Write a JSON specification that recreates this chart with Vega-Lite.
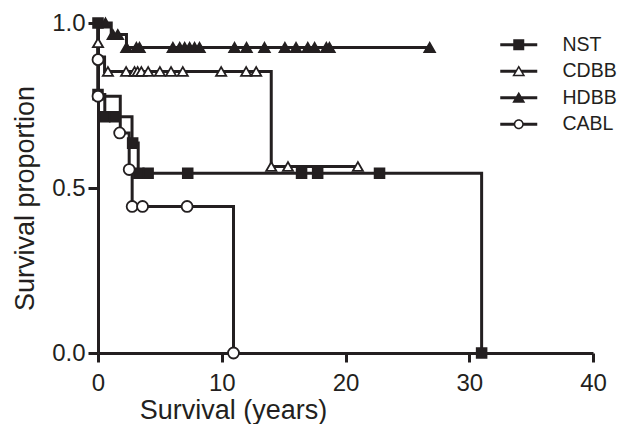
{
  "$schema": "https://vega.github.io/schema/vega-lite/v6.json",
  "autosize": {"type": "none"},
  "padding": {"left": 98, "top": 23, "right": 0, "bottom": 71},
  "width": 519,
  "height": 330,
  "background": "white",
  "config": {"view": {"stroke": null}, "legend": {"labelLimit": 0}},
  "datasets": {
    "steps": [
      {"group": "NST", "years": 0, "survival": 1},
      {"group": "NST", "years": 0, "survival": 0.783},
      {"group": "NST", "years": 0.55, "survival": 0.716},
      {"group": "NST", "years": 2.75, "survival": 0.636},
      {"group": "NST", "years": 3.25, "survival": 0.545},
      {"group": "NST", "years": 31.0, "survival": 0},
      {"group": "CDBB", "years": 0, "survival": 1},
      {"group": "CDBB", "years": 0, "survival": 0.94},
      {"group": "CDBB", "years": 0, "survival": 0.897},
      {"group": "CDBB", "years": 0.53, "survival": 0.853},
      {"group": "CDBB", "years": 14.0, "survival": 0.565},
      {"group": "CDBB", "years": 21.0, "survival": 0.565},
      {"group": "HDBB", "years": 0, "survival": 1},
      {"group": "HDBB", "years": 1.07, "survival": 0.965},
      {"group": "HDBB", "years": 2.3, "survival": 0.926},
      {"group": "HDBB", "years": 26.8, "survival": 0.926},
      {"group": "CABL", "years": 0, "survival": 1},
      {"group": "CABL", "years": 0, "survival": 0.889},
      {"group": "CABL", "years": 0, "survival": 0.778},
      {"group": "CABL", "years": 1.8, "survival": 0.667},
      {"group": "CABL", "years": 2.52, "survival": 0.556},
      {"group": "CABL", "years": 2.76, "survival": 0.444},
      {"group": "CABL", "years": 10.95, "survival": 0}
    ],
    "symbols": [
      {"group": "NST", "years": 0, "survival": 1},
      {"group": "NST", "years": 0, "survival": 0.783},
      {"group": "NST", "years": 0.55, "survival": 0.716},
      {"group": "NST", "years": 1.35, "survival": 0.716},
      {"group": "NST", "years": 2.8, "survival": 0.636},
      {"group": "NST", "years": 3.3, "survival": 0.545},
      {"group": "NST", "years": 4.05, "survival": 0.545},
      {"group": "NST", "years": 7.25, "survival": 0.545},
      {"group": "NST", "years": 16.45, "survival": 0.545},
      {"group": "NST", "years": 17.75, "survival": 0.545},
      {"group": "NST", "years": 22.75, "survival": 0.545},
      {"group": "NST", "years": 31.0, "survival": 0},
      {"group": "CDBB", "years": 0, "survival": 0.94},
      {"group": "CDBB", "years": 0.8, "survival": 0.853},
      {"group": "CDBB", "years": 2.27, "survival": 0.853},
      {"group": "CDBB", "years": 2.95, "survival": 0.853},
      {"group": "CDBB", "years": 3.2, "survival": 0.853},
      {"group": "CDBB", "years": 3.5, "survival": 0.853},
      {"group": "CDBB", "years": 4.05, "survival": 0.853},
      {"group": "CDBB", "years": 5.0, "survival": 0.853},
      {"group": "CDBB", "years": 5.9, "survival": 0.853},
      {"group": "CDBB", "years": 6.85, "survival": 0.853},
      {"group": "CDBB", "years": 9.95, "survival": 0.853},
      {"group": "CDBB", "years": 11.97, "survival": 0.853},
      {"group": "CDBB", "years": 12.78, "survival": 0.853},
      {"group": "CDBB", "years": 14.0, "survival": 0.565},
      {"group": "CDBB", "years": 15.35, "survival": 0.565},
      {"group": "CDBB", "years": 21.0, "survival": 0.565},
      {"group": "HDBB", "years": 0.6, "survival": 1},
      {"group": "HDBB", "years": 1.2, "survival": 0.965},
      {"group": "HDBB", "years": 1.6, "survival": 0.965},
      {"group": "HDBB", "years": 2.3, "survival": 0.926},
      {"group": "HDBB", "years": 3.1, "survival": 0.926},
      {"group": "HDBB", "years": 3.35, "survival": 0.926},
      {"group": "HDBB", "years": 6.05, "survival": 0.926},
      {"group": "HDBB", "years": 6.6, "survival": 0.926},
      {"group": "HDBB", "years": 7.0, "survival": 0.926},
      {"group": "HDBB", "years": 7.4, "survival": 0.926},
      {"group": "HDBB", "years": 7.8, "survival": 0.926},
      {"group": "HDBB", "years": 8.2, "survival": 0.926},
      {"group": "HDBB", "years": 11.03, "survival": 0.926},
      {"group": "HDBB", "years": 12.0, "survival": 0.926},
      {"group": "HDBB", "years": 13.45, "survival": 0.926},
      {"group": "HDBB", "years": 15.1, "survival": 0.926},
      {"group": "HDBB", "years": 16.0, "survival": 0.926},
      {"group": "HDBB", "years": 16.95, "survival": 0.926},
      {"group": "HDBB", "years": 17.5, "survival": 0.926},
      {"group": "HDBB", "years": 18.45, "survival": 0.926},
      {"group": "HDBB", "years": 18.7, "survival": 0.926},
      {"group": "HDBB", "years": 26.8, "survival": 0.926},
      {"group": "CABL", "years": 0, "survival": 0.889},
      {"group": "CABL", "years": 0, "survival": 0.778},
      {"group": "CABL", "years": 1.75, "survival": 0.667},
      {"group": "CABL", "years": 2.52, "survival": 0.556},
      {"group": "CABL", "years": 2.76, "survival": 0.444},
      {"group": "CABL", "years": 3.6, "survival": 0.444},
      {"group": "CABL", "years": 7.2, "survival": 0.444},
      {"group": "CABL", "years": 10.95, "survival": 0}
    ]
  },
  "encoding": {
    "x": {
      "field": "years", "type": "quantitative",
      "scale": {"domain": [0, 40], "range": [0, 495], "nice": false, "zero": false},
      "axis": {
        "title": "Survival (years)", "values": [0, 10, 20, 30, 40], "grid": false,
        "labelFont": "Liberation Sans", "labelFontSize": 24, "labelColor": "#231f20",
        "labelPadding": 9, "labelFlush": false, "labelOverlap": false,
        "tickSize": 9, "tickWidth": 3, "tickColor": "#231f20",
        "domainColor": "#231f20", "domainWidth": 3,
        "titleFont": "Liberation Sans", "titleFontSize": 27, "titleFontWeight": "normal",
        "titleColor": "#231f20", "titleX": 135, "titleY": 65,
        "titleAlign": "center", "titleBaseline": "alphabetic"
      }
    },
    "y": {
      "field": "survival", "type": "quantitative",
      "scale": {"domain": [0, 1], "nice": false},
      "axis": {
        "title": "Survival proportion", "values": [0, 0.5, 1], "format": ".1f", "grid": false,
        "labelFont": "Liberation Sans", "labelFontSize": 24, "labelColor": "#231f20",
        "labelPadding": 3, "labelFlush": false, "labelOverlap": false,
        "tickSize": 10, "tickWidth": 3, "tickColor": "#231f20",
        "domainColor": "#231f20", "domainWidth": 3,
        "titleFont": "Liberation Sans", "titleFontSize": 27, "titleFontWeight": "normal",
        "titleColor": "#231f20", "titleX": -65, "titleY": 175,
        "titleAlign": "center", "titleBaseline": "alphabetic", "titleAngle": -90
      }
    }
  },
  "layer": [
    {
      "data": {"name": "steps"},
      "mark": {"type": "line", "interpolate": "step-after", "strokeWidth": 3, "color": "#231f20"},
      "encoding": {
        "detail": {"field": "group"},
        "order": {"value": null}
      }
    },
    {
      "data": {"name": "symbols"},
      "mark": {"type": "point", "opacity": 1, "strokeWidth": 1.8, "stroke": "#231f20"},
      "encoding": {
        "shape": {
          "field": "group",
          "scale": {"domain": ["NST", "CDBB", "HDBB", "CABL"], "range": ["square", "triangle-up", "triangle-up", "circle"]},
          "legend": null
        },
        "fill": {
          "field": "group",
          "scale": {"domain": ["NST", "CDBB", "HDBB", "CABL"], "range": ["#231f20", "#ffffff", "#231f20", "#ffffff"]},
          "legend": null
        },
        "size": {
          "field": "group",
          "scale": {"domain": ["NST", "CDBB", "HDBB", "CABL"], "range": [95, 120, 110, 90]},
          "legend": null
        }
      }
    },
    {
      "data": {"name": "steps"},
      "transform": [{"filter": "false"}],
      "mark": {"type": "point", "filled": true, "color": "#231f20", "opacity": 1},
      "encoding": {
        "shape": {
          "field": "group",
          "scale": {
            "domain": ["NST", "CDBB", "HDBB", "CABL"],
            "range": [
              "M-3.7,-0.3H3.7V0.3H-3.7Z M-1.1,-1.1H1.1V1.1H-1.1Z",
              "M-3.7,-0.3H-0.55V0.3H-3.7Z M0.55,-0.3H3.7V0.3H0.55Z M0,-1.2L1.3,1L-1.3,1Z M0,-0.61L-0.775,0.7L0.775,0.7Z",
              "M-3.7,-0.3H3.7V0.3H-3.7Z M0,-1.2L1.3,1L-1.3,1Z",
              "M-3.7,-0.3H-0.85V0.3H-3.7Z M0.85,-0.3H3.7V0.3H0.85Z M-1,0A1,1 0 1,1 1,0A1,1 0 1,1 -1,0Z M-0.7,0A0.7,0.7 0 1,0 0.7,0A0.7,0.7 0 1,0 -0.7,0Z"
            ]
          },
          "legend": {
            "orient": "none", "legendX": 411, "legendY": 12, "title": null,
            "labelFont": "Liberation Sans", "labelFontSize": 19.5, "labelColor": "#231f20",
            "labelLimit": 0,
            "symbolSize": 100, "labelOffset": 34, "rowPadding": 5.5,
            "symbolStrokeWidth": 0, "symbolOpacity": 1
          }
        }
      }
    }
  ],
  "resolve": {"scale": {"shape": "independent"}}
}
